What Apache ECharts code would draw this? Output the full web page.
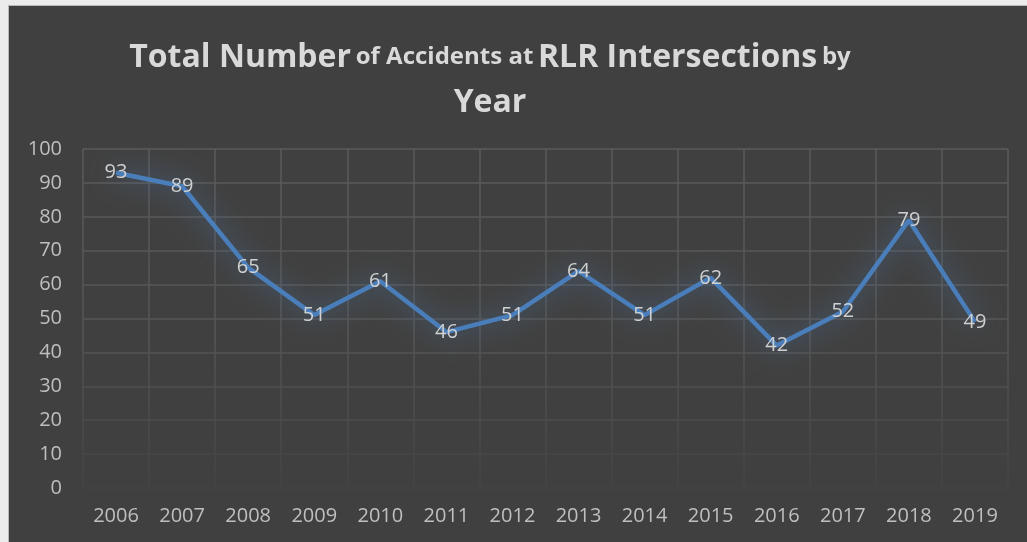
<!DOCTYPE html>
<html>
<head>
<meta charset="utf-8">
<style>
  html, body { margin: 0; padding: 0; background: #ececec; }
  #chart { position: absolute; left: 8px; top: 5px; width: 1019px; height: 537px;
           border-left: 1px solid #b8b8b8; border-top: 1px solid #b8b8b8; box-sizing: border-box; }
</style>
<script src="https://cdn.jsdelivr.net/npm/echarts@6/dist/echarts.min.js"></script>
</head>
<body>
<div id="chart"></div>
<script>
// values
var years = ['2006', '2007', '2008', '2009', '2010', '2011', '2012',
             '2013', '2014', '2015', '2016', '2017', '2018', '2019'];
var accidents = [93, 89, 65, 51, 61, 46, 51, 64, 51, 62, 42, 52, 79, 49];

var font = '"Open Sans", "Liberation Sans", sans-serif';

// grid lines fade out towards the bottom
var gridFade = {
  type: 'linear', global: true, x: 0, y: 140, x2: 0, y2: 484,
  colorStops: [
    { offset: 0, color: '#5a5a5a' },
    { offset: 0.55, color: '#555555' },
    { offset: 1, color: '#434343' }
  ]
};

var myChart = echarts.init(document.getElementById('chart'));
var option = {
  backgroundColor: '#404040',
  animation: false,
  title: {
    left: 476,
    top: 24,
    textAlign: 'center',
    text: '{b|Total Number} {s|of Accidents at} {b|RLR Intersections} {s|by}\n{b|Year}',
    textStyle: {
      fontFamily: font,
      color: '#d9d9d9',
      lineHeight: 45,
      rich: {
        b: { fontSize: 32, fontWeight: 'bold', color: '#d9d9d9', fontFamily: font, lineHeight: 45 },
        s: { fontSize: 24, fontWeight: 'bold', color: '#d9d9d9', fontFamily: font, lineHeight: 45 }
      }
    }
  },
  grid: { left: 74, right: 19, top: 143, bottom: 54 },
  xAxis: {
    type: 'category',
    data: years,
    boundaryGap: true,
    axisLine: { show: false },
    axisTick: { show: false },
    axisLabel: { color: '#bfbfbf', fontSize: 20, fontFamily: font, margin: 18 },
    splitLine: { show: true, lineStyle: { color: gridFade, width: 1.5 } }
  },
  yAxis: {
    type: 'value',
    min: 0, max: 100, interval: 10,
    axisLine: { show: false },
    axisTick: { show: false },
    axisLabel: { color: '#bfbfbf', fontSize: 20, fontFamily: font, margin: 21 },
    splitLine: { show: true, lineStyle: { color: gridFade, width: 1.5 } }
  },
  series: [{
    type: 'line',
    data: accidents,
    symbol: 'circle',
    symbolSize: 1,
    itemStyle: { color: 'rgba(0,0,0,0)' },
    lineStyle: {
      color: '#4a7ebb', width: 4.5,
      shadowColor: 'rgba(79,129,189,0.9)', shadowBlur: 26
    },
    label: {
      show: true,
      position: 'inside',
      color: '#d0d0d0',
      fontSize: 20,
      fontFamily: font
    }
  }]
};
myChart.setOption(option);
</script>
</body>
</html>
